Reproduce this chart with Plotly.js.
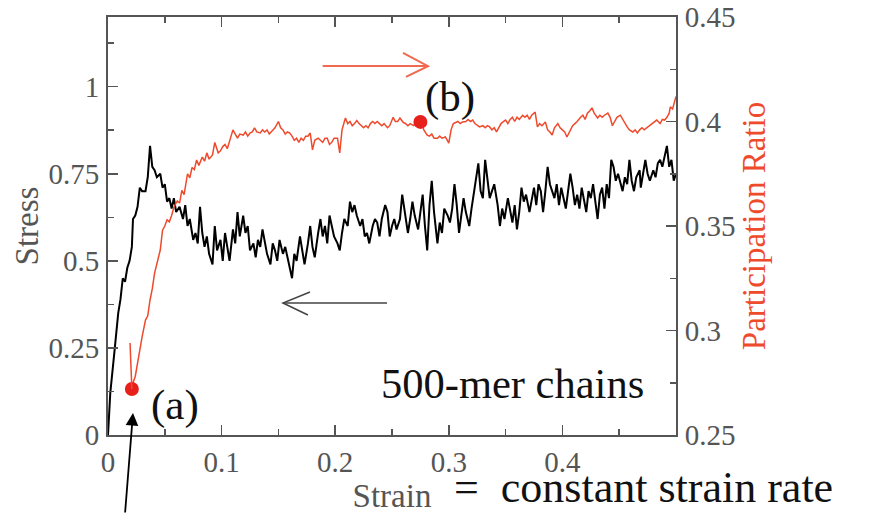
<!DOCTYPE html>
<html>
<head>
<meta charset="utf-8">
<script src="https://cdn.plot.ly/plotly-3.0.1.min.js"></script>
<style>html,body{margin:0;padding:0;background:#fff;}</style>
</head>
<body>
<div id="chart" style="width:869px;height:514px;"></div>
<script>
// Stress (left axis) vs strain
const stressStrain = [0.000,0.002,0.006,0.009,0.011,0.013,0.015,0.017,0.019,0.021,0.022,0.024,0.026,0.028,0.030,0.033,0.035,0.037,0.039,0.041,0.043,0.046,0.048,0.050,0.052,0.054,0.056,0.058,0.060,0.063,0.066,0.068,0.070,0.072,0.075,0.077,0.079,0.081,0.083,0.085,0.087,0.089,0.092,0.094,0.096,0.099,0.101,0.103,0.105,0.107,0.110,0.112,0.114,0.116,0.119,0.121,0.123,0.125,0.128,0.130,0.132,0.134,0.136,0.138,0.140,0.143,0.145,0.147,0.149,0.151,0.154,0.156,0.158,0.160,0.162,0.164,0.166,0.169,0.171,0.173,0.176,0.178,0.180,0.182,0.185,0.187,0.189,0.191,0.193,0.195,0.197,0.199,0.202,0.204,0.206,0.208,0.211,0.213,0.215,0.217,0.219,0.222,0.224,0.226,0.228,0.230,0.233,0.235,0.237,0.239,0.241,0.244,0.246,0.248,0.250,0.252,0.254,0.257,0.259,0.261,0.264,0.266,0.268,0.270,0.273,0.275,0.277,0.279,0.281,0.283,0.285,0.287,0.290,0.292,0.294,0.296,0.299,0.301,0.303,0.305,0.307,0.309,0.311,0.313,0.315,0.318,0.320,0.322,0.324,0.326,0.328,0.330,0.332,0.334,0.336,0.338,0.340,0.343,0.345,0.347,0.349,0.352,0.354,0.356,0.358,0.360,0.362,0.364,0.366,0.368,0.371,0.373,0.375,0.377,0.379,0.381,0.383,0.385,0.387,0.389,0.391,0.393,0.395,0.397,0.399,0.401,0.403,0.405,0.407,0.409,0.411,0.413,0.415,0.417,0.419,0.421,0.423,0.425,0.427,0.429,0.431,0.433,0.435,0.437,0.439,0.441,0.443,0.445,0.447,0.449,0.451,0.453,0.455,0.457,0.459,0.461,0.463,0.465,0.468,0.469,0.471,0.473,0.475,0.477,0.480,0.482,0.484,0.486,0.488,0.490,0.492,0.494,0.496,0.498,0.500];
const stressValues = [0.00,0.12,0.25,0.35,0.39,0.45,0.44,0.48,0.50,0.54,0.62,0.63,0.655,0.71,0.70,0.70,0.74,0.83,0.77,0.76,0.74,0.75,0.71,0.72,0.67,0.68,0.65,0.68,0.64,0.655,0.62,0.66,0.60,0.62,0.56,0.58,0.55,0.655,0.58,0.54,0.57,0.52,0.49,0.60,0.53,0.56,0.50,0.58,0.54,0.50,0.59,0.55,0.64,0.57,0.63,0.58,0.60,0.53,0.55,0.51,0.56,0.54,0.59,0.55,0.52,0.49,0.55,0.53,0.50,0.56,0.52,0.54,0.51,0.47,0.45,0.52,0.50,0.57,0.53,0.49,0.55,0.60,0.54,0.51,0.58,0.62,0.57,0.60,0.55,0.63,0.60,0.57,0.55,0.53,0.58,0.62,0.60,0.67,0.64,0.66,0.63,0.60,0.62,0.57,0.58,0.55,0.60,0.62,0.61,0.57,0.62,0.66,0.64,0.57,0.60,0.62,0.59,0.62,0.69,0.64,0.58,0.62,0.67,0.63,0.59,0.64,0.69,0.60,0.53,0.66,0.73,0.64,0.55,0.61,0.58,0.65,0.63,0.61,0.65,0.72,0.66,0.58,0.63,0.68,0.64,0.60,0.65,0.69,0.74,0.78,0.70,0.68,0.79,0.74,0.68,0.70,0.72,0.66,0.60,0.65,0.62,0.68,0.64,0.61,0.66,0.59,0.64,0.71,0.67,0.69,0.64,0.68,0.71,0.66,0.72,0.70,0.64,0.70,0.77,0.72,0.70,0.68,0.72,0.66,0.71,0.68,0.65,0.70,0.75,0.71,0.66,0.69,0.65,0.71,0.67,0.64,0.70,0.68,0.72,0.67,0.62,0.69,0.71,0.65,0.72,0.68,0.79,0.77,0.73,0.75,0.72,0.70,0.74,0.72,0.79,0.73,0.70,0.74,0.76,0.71,0.75,0.79,0.75,0.73,0.76,0.74,0.78,0.79,0.77,0.80,0.83,0.77,0.79,0.73,0.75];

// Participation ratio (right axis) vs strain
const prStrain = [0.021,0.022,0.024,0.026,0.028,0.030,0.033,0.035,0.037,0.039,0.041,0.043,0.046,0.048,0.050,0.052,0.054,0.056,0.058,0.061,0.063,0.065,0.067,0.070,0.072,0.074,0.076,0.078,0.080,0.083,0.085,0.087,0.089,0.092,0.094,0.097,0.099,0.101,0.103,0.105,0.107,0.110,0.112,0.114,0.116,0.119,0.121,0.123,0.125,0.127,0.129,0.131,0.134,0.136,0.138,0.140,0.142,0.145,0.147,0.150,0.152,0.154,0.156,0.158,0.160,0.162,0.164,0.166,0.168,0.170,0.172,0.174,0.176,0.178,0.180,0.182,0.185,0.187,0.189,0.191,0.193,0.195,0.197,0.199,0.202,0.204,0.206,0.209,0.211,0.213,0.215,0.217,0.219,0.221,0.223,0.225,0.227,0.229,0.231,0.233,0.235,0.237,0.239,0.241,0.243,0.246,0.248,0.251,0.253,0.255,0.257,0.260,0.262,0.264,0.266,0.269,0.271,0.273,0.276,0.278,0.281,0.283,0.285,0.287,0.290,0.292,0.294,0.297,0.300,0.302,0.304,0.306,0.308,0.310,0.312,0.315,0.317,0.319,0.321,0.323,0.325,0.327,0.330,0.332,0.334,0.336,0.338,0.340,0.342,0.344,0.346,0.348,0.350,0.352,0.354,0.356,0.358,0.360,0.362,0.365,0.367,0.369,0.371,0.373,0.376,0.378,0.380,0.382,0.385,0.387,0.389,0.391,0.393,0.396,0.398,0.400,0.402,0.404,0.406,0.409,0.411,0.413,0.416,0.418,0.420,0.422,0.424,0.426,0.428,0.431,0.433,0.435,0.437,0.440,0.442,0.444,0.446,0.448,0.451,0.453,0.455,0.457,0.459,0.462,0.464,0.466,0.468,0.470,0.472,0.475,0.477,0.479,0.481,0.483,0.486,0.488,0.490,0.492,0.494,0.495,0.497,0.499,0.500];
const prValues = [0.272,0.275,0.278,0.285,0.292,0.297,0.305,0.307,0.3146,0.320,0.3275,0.332,0.3385,0.348,0.350,0.353,0.352,0.355,0.359,0.362,0.361,0.367,0.365,0.375,0.373,0.378,0.377,0.3816,0.379,0.383,0.381,0.385,0.382,0.384,0.390,0.385,0.386,0.388,0.389,0.387,0.391,0.396,0.394,0.392,0.394,0.3935,0.395,0.393,0.3945,0.395,0.397,0.395,0.3945,0.396,0.395,0.396,0.394,0.396,0.397,0.400,0.397,0.396,0.394,0.395,0.3945,0.393,0.391,0.392,0.390,0.392,0.391,0.393,0.393,0.3945,0.3864,0.391,0.392,0.391,0.390,0.392,0.392,0.389,0.390,0.392,0.392,0.385,0.396,0.4017,0.399,0.400,0.398,0.399,0.4005,0.399,0.398,0.397,0.398,0.397,0.399,0.400,0.399,0.400,0.399,0.398,0.399,0.397,0.398,0.402,0.400,0.400,0.4017,0.3995,0.399,0.398,0.399,0.398,0.399,0.398,0.3998,0.396,0.3935,0.393,0.394,0.392,0.392,0.393,0.392,0.3926,0.3897,0.396,0.399,0.3995,0.400,0.399,0.3998,0.400,0.401,0.400,0.4007,0.399,0.398,0.3974,0.398,0.397,0.398,0.3974,0.396,0.397,0.395,0.397,0.399,0.400,0.4007,0.399,0.401,0.402,0.400,0.402,0.401,0.403,0.402,0.403,0.401,0.403,0.4045,0.3974,0.399,0.398,0.3998,0.396,0.395,0.3935,0.397,0.399,0.397,0.396,0.395,0.3926,0.395,0.398,0.399,0.400,0.402,0.403,0.401,0.404,0.405,0.4065,0.404,0.4017,0.403,0.402,0.403,0.404,0.402,0.398,0.400,0.402,0.403,0.401,0.399,0.3974,0.396,0.395,0.396,0.3945,0.396,0.397,0.396,0.3974,0.398,0.399,0.400,0.4007,0.399,0.401,0.4007,0.402,0.404,0.407,0.406,0.410,0.412];

// Marked states (a) and (b) on the participation-ratio curve
const markStrain = [0.021, 0.275];
const markPR = [0.272, 0.3998];

const xTicks = [0, 0.1, 0.2, 0.3, 0.4];
const yTicks = [0, 0.25, 0.5, 0.75, 1];
const y2Ticks = [0.25, 0.3, 0.35, 0.4, 0.45];

const GRAY = '#555555';
const RED = '#ee4a2c';
const FONT = '"Liberation Serif", "Times New Roman", Times, serif';

const axisBase = {
  showgrid: false, zeroline: false, showline: true,
  linecolor: GRAY, linewidth: 2,
  ticks: 'inside', ticklen: 10, tickwidth: 1.5, tickcolor: GRAY,
  tickfont: {family: FONT, size: 29, color: GRAY},
};

const traces = [
  {x: stressStrain, y: stressValues, type: 'scatter', mode: 'lines',
   line: {color: '#000', width: 2}, xaxis: 'x', yaxis: 'y', hoverinfo: 'skip'},
  {x: prStrain, y: prValues, type: 'scatter', mode: 'lines',
   line: {color: RED, width: 1.5}, xaxis: 'x', yaxis: 'y2', hoverinfo: 'skip'},
  {x: markStrain, y: markPR, type: 'scatter', mode: 'markers',
   marker: {color: '#e8201c', size: 14}, xaxis: 'x', yaxis: 'y2', hoverinfo: 'skip'}
];

const layout = {
  width: 869, height: 514,
  margin: {l: 108, r: 193, t: 17, b: 79, pad: 0},
  paper_bgcolor: '#fff', plot_bgcolor: '#fff',
  showlegend: false,
  font: {family: FONT, color: GRAY},
  xaxis: Object.assign({}, axisBase, {
    range: [0, 0.5], tickmode: 'array', tickvals: xTicks,
    mirror: 'ticks', ticklabelstandoff: 0,
    minor: {tickmode: 'linear', tick0: 0, dtick: 0.05, ticks: 'inside', ticklen: 6, tickwidth: 1.5, tickcolor: GRAY, showgrid: false},
    title: {text: 'Strain', font: {family: FONT, size: 33, color: GRAY}, standoff: 2}
  }),
  yaxis: Object.assign({}, axisBase, {
    range: [0, 1.2], tickmode: 'array', tickvals: yTicks,
    ticklabelstandoff: 1,
    minor: {tickmode: 'linear', tick0: 0, dtick: 0.125, ticks: 'inside', ticklen: 6, tickwidth: 1.5, tickcolor: GRAY, showgrid: false},
    title: {text: 'Stress', font: {family: FONT, size: 33, color: GRAY}, standoff: 0}
  }),
  yaxis2: Object.assign({}, axisBase, {
    range: [0.25, 0.45], tickmode: 'array', tickvals: y2Ticks,
    overlaying: 'y', side: 'right', ticklabelstandoff: 1,
    minor: {tickmode: 'linear', tick0: 0.25, dtick: 0.025, ticks: 'inside', ticklen: 6, tickwidth: 1.5, tickcolor: GRAY, showgrid: false},
    title: {text: 'Participation Ratio', font: {family: FONT, size: 33, color: RED}, standoff: 0}
  }),
  shapes: [
    // red arrow (pointing right)
    {type: 'line', xref: 'x', yref: 'y', x0: 0.189, y0: 1.059, x1: 0.2817, y1: 1.059, line: {color: '#ef6a50', width: 2}},
    {type: 'path', xref: 'x', yref: 'y', path: 'M 0.2597 1.0967 L 0.2817 1.059 L 0.2623 1.028', line: {color: '#ef6a50', width: 2}},
    // black arrow (pointing left)
    {type: 'line', xref: 'x', yref: 'y', x0: 0.2456, y0: 0.379, x1: 0.154, y1: 0.379, line: {color: '#444', width: 1.5}},
    {type: 'path', xref: 'x', yref: 'y', path: 'M 0.1778 0.4106 L 0.154 0.379 L 0.176 0.3445', line: {color: '#444', width: 1.5}},
    // short red stroke above point (a)
    {type: 'line', xref: 'x', yref: 'y2', x0: 0.0194, y0: 0.294, x1: 0.021, y1: 0.272, line: {color: RED, width: 1.5}}
  ],
  annotations: [
    {x: 0.022, y: 0.063, xref: 'x', yref: 'y', text: '', showarrow: true,
     ax: -8, ay: 101, arrowhead: 2, arrowsize: 1.4, arrowwidth: 1.8, arrowcolor: '#000', standoff: 0},
    {x: 0.059, y: 0.086, xref: 'x', yref: 'y', text: '(a)', showarrow: false,
     font: {family: FONT, size: 43, color: '#111'}, xanchor: 'center', yanchor: 'middle'},
    {x: 0.301, y: 0.97, xref: 'x', yref: 'y', text: '(b)', showarrow: false,
     font: {family: FONT, size: 43, color: '#111'}, xanchor: 'center', yanchor: 'middle'},
    {x: 0.3565, y: 0.149, xref: 'x', yref: 'y', text: '500-mer chains', showarrow: false,
     font: {family: FONT, size: 42.5, color: '#111'}, xanchor: 'center', yanchor: 'middle'},
    {x: 0.6075, y: -0.186, xref: 'paper', yref: 'paper', text: '=\u00a0\u00a0constant strain rate', showarrow: false,
     font: {family: FONT, size: 44, color: '#111'}, xanchor: 'left', yanchor: 'bottom', borderpad: 0}
  ]
};

Plotly.newPlot('chart', traces, layout, {staticPlot: true, displayModeBar: false});
</script>
</body>
</html>
